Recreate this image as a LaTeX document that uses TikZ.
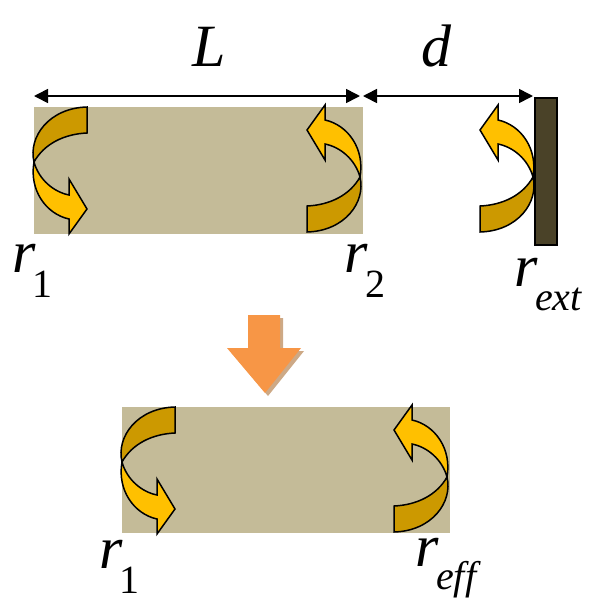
\documentclass[tikz,border=0pt]{standalone}
\usepackage{fontspec}
\setmainfont{Liberation Serif}
\usetikzlibrary{arrows.meta}
\definecolor{cavity}{HTML}{C4BB98}
\definecolor{wallc}{HTML}{4A4228}
\definecolor{bandc}{HTML}{CC9900}
\definecolor{headc}{HTML}{FFC000}
\definecolor{downc}{HTML}{F79646}
\definecolor{downs}{HTML}{CDA986}
\tikzset{
  x=1pt,y=-1pt,
  cavitybox/.style={fill=cavity,draw=none},
  curl/.style={draw=black,line width=1.5pt,line join=miter},
  dimline/.style={draw=black,line width=1.6pt,{Triangle[length=14pt,width=14pt]}-{Triangle[length=14pt,width=14pt]},shorten <=0pt,shorten >=0pt},
  sym/.style={inner sep=0pt,font=\fontsize{60}{60}\selectfont\itshape,anchor=base},
  subs/.style={inner sep=0pt,font=\fontsize{40}{40}\selectfont\itshape,anchor=base west},
  subn/.style={inner sep=0pt,font=\fontsize{40}{40}\selectfont,anchor=base west},
  curlarrow/.pic={
    \path[curl,fill=bandc] (53,-55) -- (53,-29) .. controls (30,-28) and (10,-18) .. (0,0)
      .. controls (-6,-25) and (15,-54) .. cycle;
    \path[curl,fill=headc] (0,0) .. controls (5,18) and (20,30) .. (35,33) -- (35,17) -- (53,47)
      -- (35,72) -- (35,57) .. controls (12,52) and (-5,28) .. cycle;
  }
}
\begin{document}
\begin{tikzpicture}
\useasboundingbox (0,0) rectangle (592,603);
% top cavity
\node[cavitybox,minimum width=329pt,minimum height=127pt,inner sep=0pt,anchor=north west] (cavA) at (34,107) {};
\node[draw=black,fill=wallc,line width=1.6pt,minimum width=22pt,minimum height=147pt,inner sep=0pt,anchor=north west] (wall) at (534,97) {};
\pic at (34,162) {curlarrow};
\pic[rotate=180] at (360,177) {curlarrow};
\pic[rotate=180] at (533,177) {curlarrow};
% dimensions
\coordinate (La) at (34,96);
\coordinate (Lb) at (360,96);
\coordinate (da) at (363,96);
\coordinate (db) at (533,96);
\draw[dimline] (La) -- (Lb);
\draw[dimline] (da) -- (db);
\node[sym] (lL) at (209,66) {L};
\node[sym] (ld) at (436,66) {d};
\node[sym] (r1) at (24,272) {r};
\node[subn] (r1s) at (32,297) {1};
\node[sym] (r2) at (356,272) {r};
\node[subn] (r2s) at (365,297) {2};
\node[sym] (rx) at (526,286) {r};
\node[subs] (rxs) at (535,310) {ext};
% down arrow
\path[fill=downs] (251,318) -- (283,318) -- (283,351) -- (304,351) -- (268,396) -- (230,351) -- (251,351) -- cycle;
\path[fill=downc] (248,315) -- (280,315) -- (280,348) -- (301,348) -- (265,393) -- (227,348) -- (248,348) -- cycle;
% bottom cavity
\node[cavitybox,minimum width=328pt,minimum height=126pt,inner sep=0pt,anchor=north west] (cavB) at (122,407) {};
\pic at (122,462) {curlarrow};
\pic[rotate=180] at (447,477) {curlarrow};
\node[sym] (r3) at (111,568) {r};
\node[subn] (r3s) at (119,593) {1};
\node[sym] (r4) at (427,566) {r};
\node[subs] (r4s) at (436,589) {eff};
\end{tikzpicture}
\end{document}
